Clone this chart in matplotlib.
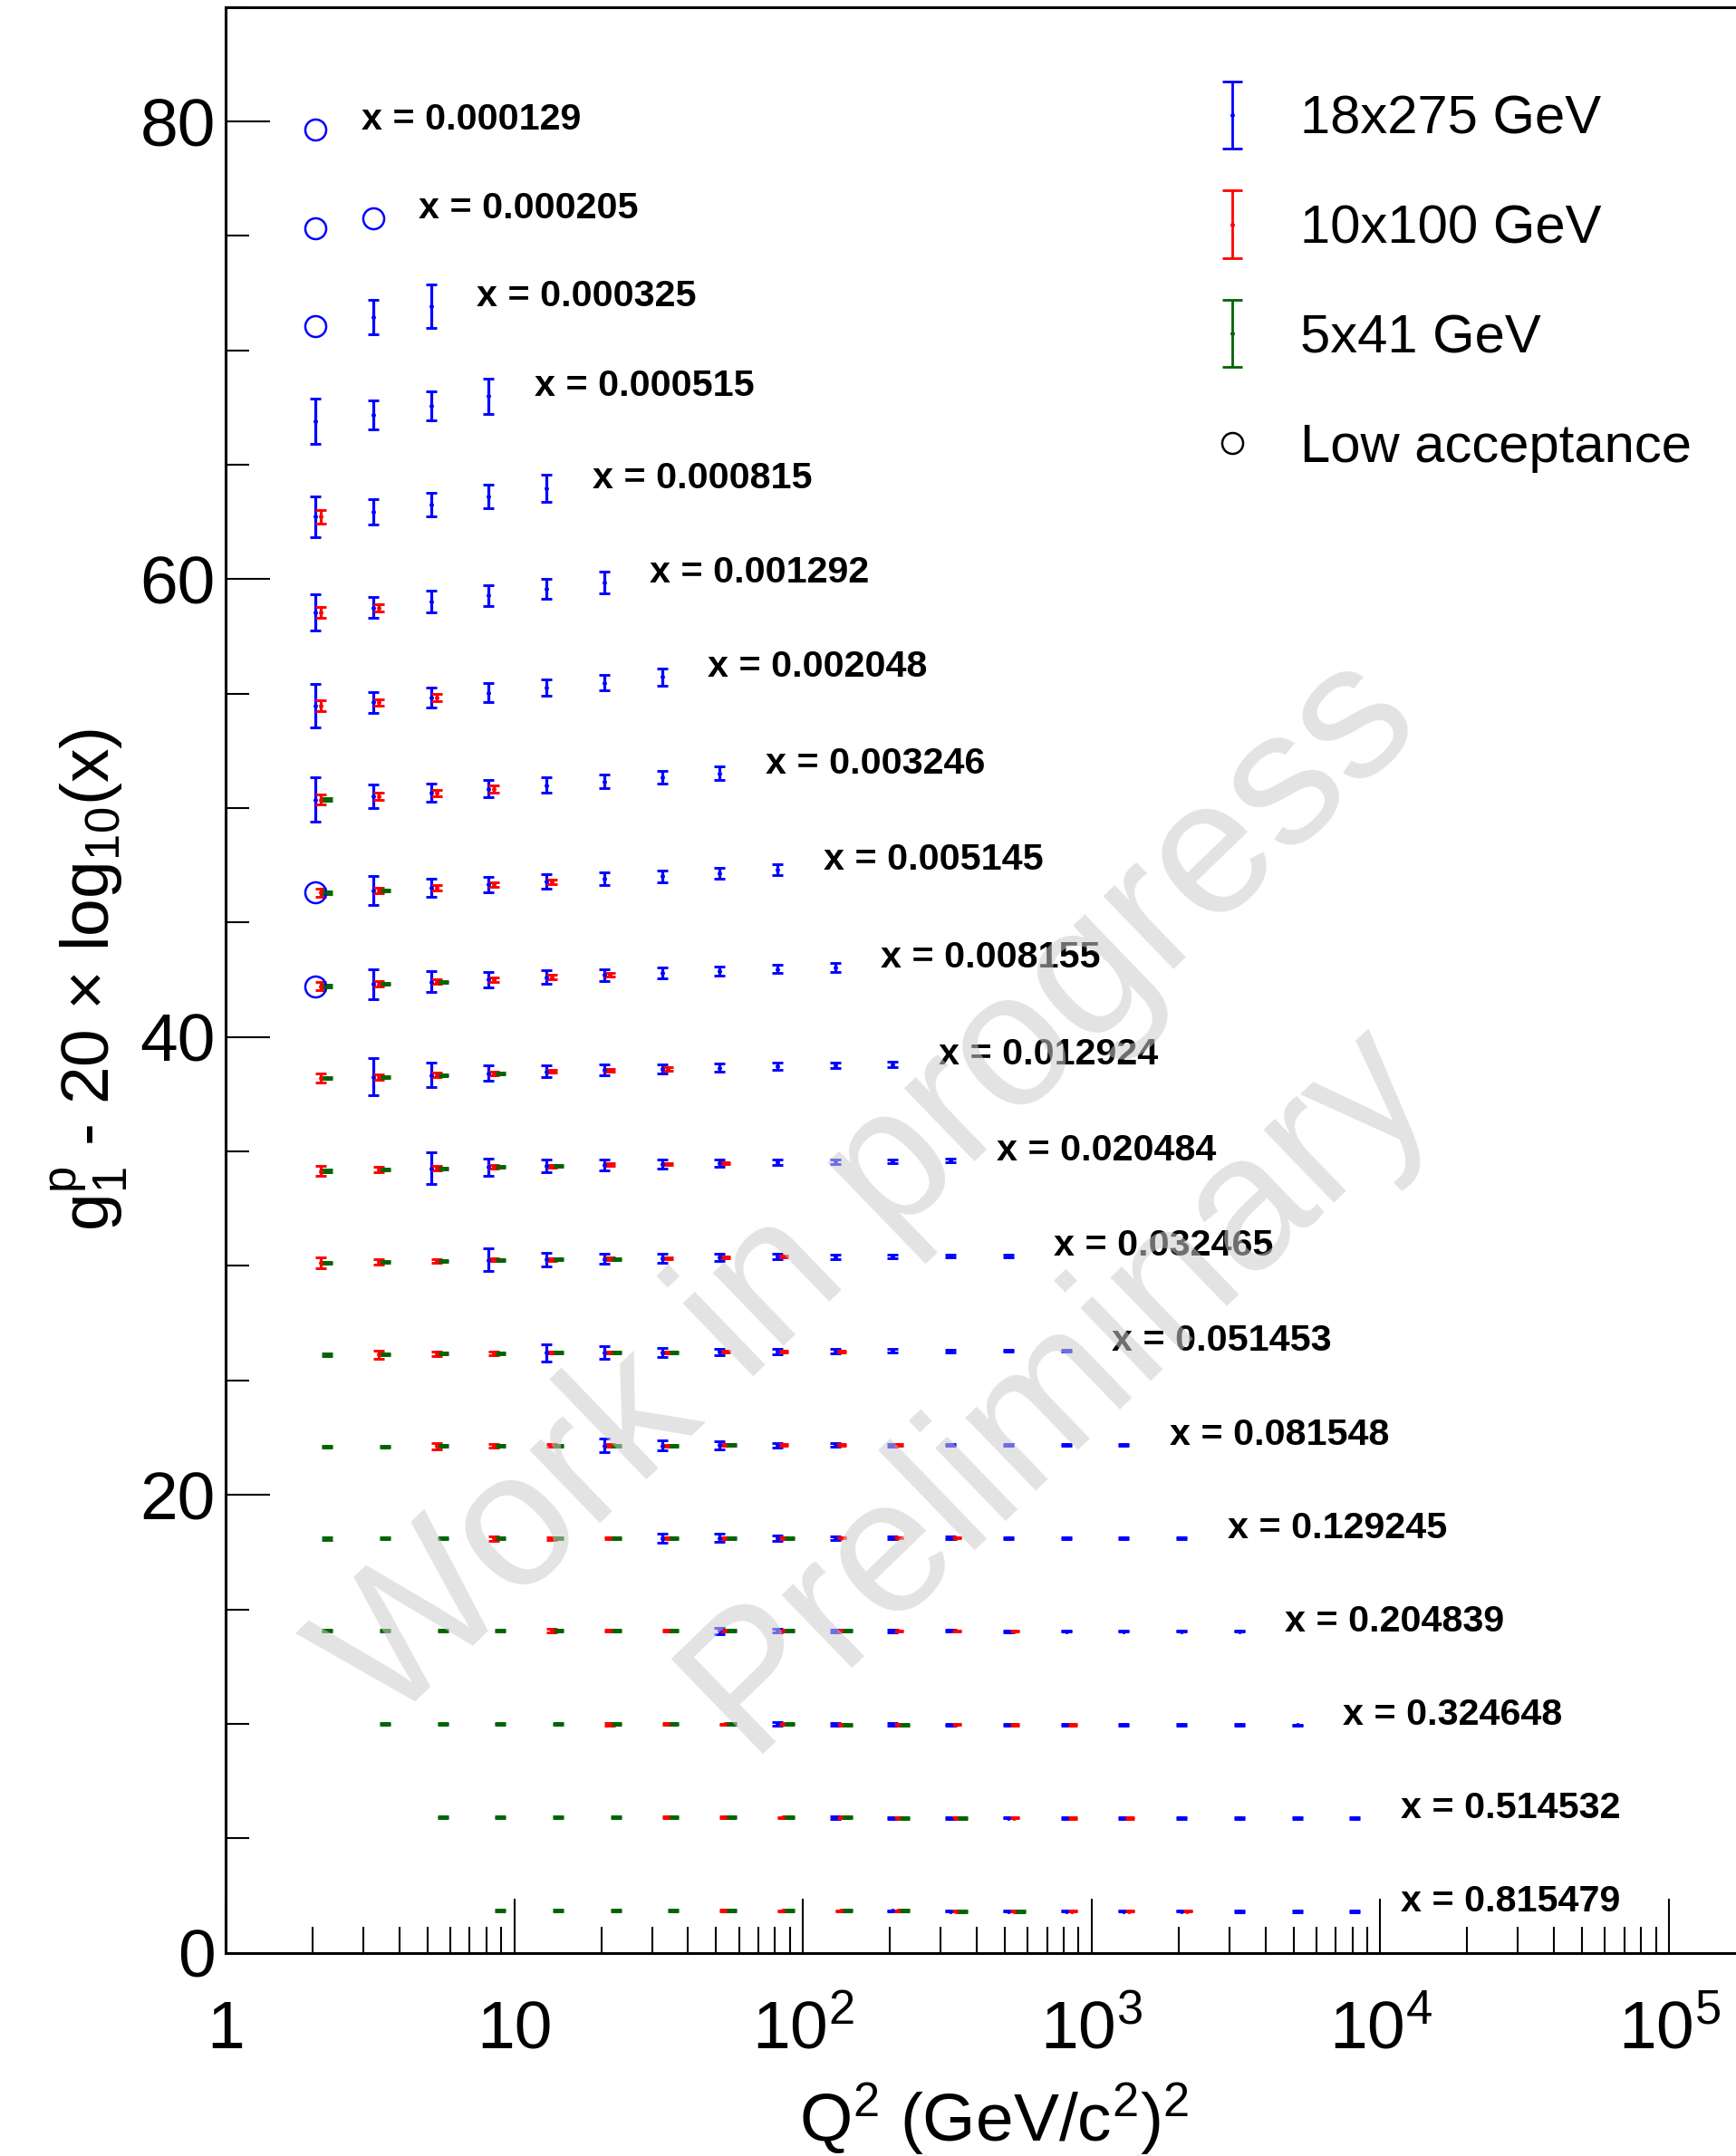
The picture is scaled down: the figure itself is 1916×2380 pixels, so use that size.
import numpy as np
import matplotlib
matplotlib.use("Agg")
import matplotlib.pyplot as plt
import matplotlib.transforms as mtransforms
from matplotlib.container import ErrorbarContainer
from matplotlib.legend_handler import HandlerErrorbar
from matplotlib.lines import Line2D
from matplotlib.ticker import FixedLocator, MultipleLocator, NullFormatter

plt.rcParams.update({
    "font.family": ["Liberation Sans", "DejaVu Sans"],
    "mathtext.fontset": "custom",
    "mathtext.rm": "Liberation Sans",
    "mathtext.it": "Liberation Sans:italic",
    "mathtext.bf": "Liberation Sans:bold",
    "mathtext.default": "regular",
})

# ---- binning -------------------------------------------------------------
q2_bins = [2.048, 3.246, 5.145, 8.155, 12.92, 20.48, 32.46, 51.45, 81.55, 129.2,
           204.8, 324.6, 514.5, 815.5, 1292, 2048, 3246, 5145, 8155]

x_labels = ["0.000129", "0.000205", "0.000325", "0.000515", "0.000815",
            "0.001292", "0.002048", "0.003246", "0.005145", "0.008155",
            "0.012924", "0.020484", "0.032465", "0.051453", "0.081548",
            "0.129245", "0.204839", "0.324648", "0.514532", "0.815479"]
x_bins = [float(s) for s in x_labels]

# ---- g1^p per x bin, starting at Q2 bin index g1_first -------------------
g1_first = [0, 0, 0, 0, 0, 0, 0, 0, 0, 0, 0, 0, 0, 0, 0, 0, 0, 1, 2, 3]
g1_vals = [
    [1.85],
    [1.55, 1.99],
    [1.31, 1.68, 2.17],
    [1.12, 1.42, 1.81, 2.24],
    [0.95, 1.18, 1.48, 1.83, 2.20],
    [0.79, 0.99, 1.24, 1.51, 1.80, 2.09],
    [0.70, 0.84, 1.05, 1.27, 1.49, 1.70, 1.95],
    [0.60, 0.74, 0.89, 1.07, 1.23, 1.39, 1.57, 1.74],
    [0.54, 0.64, 0.75, 0.89, 1.01, 1.14, 1.25, 1.39, 1.53],
    [0.45, 0.55, 0.65, 0.74, 0.84, 0.94, 1.03, 1.11, 1.19, 1.26],
    [0.43, 0.49, 0.57, 0.65, 0.73, 0.78, 0.83, 0.89, 0.95, 0.99, 1.05],
    [0.38, 0.44, 0.50, 0.55, 0.59, 0.64, 0.68, 0.72, 0.76, 0.79, 0.81, 0.83],
    [0.36, 0.39, 0.43, 0.49, 0.51, 0.54, 0.57, 0.61, 0.63, 0.64, 0.65, 0.66, 0.67],
    [0.34, 0.36, 0.39, 0.41, 0.44, 0.45, 0.46, 0.48, 0.49, 0.50, 0.51, 0.52, 0.52, 0.53],
    [0.34, 0.35, 0.36, 0.37, 0.38, 0.39, 0.39, 0.40, 0.40, 0.41, 0.41, 0.42, 0.42, 0.43, 0.43],
    [0.32, 0.32, 0.33, 0.33, 0.33, 0.34, 0.34, 0.34, 0.34, 0.35, 0.35, 0.35, 0.35, 0.35, 0.35, 0.35],
    [0.29, 0.29, 0.29, 0.29, 0.29, 0.29, 0.28, 0.28, 0.28, 0.28, 0.28, 0.28, 0.27, 0.27, 0.27, 0.27, 0.27],
    [0.23, 0.23, 0.22, 0.22, 0.22, 0.21, 0.21, 0.21, 0.20, 0.20, 0.20, 0.19, 0.19, 0.18, 0.18, 0.18, 0.17],
    [0.15, 0.15, 0.14, 0.14, 0.14, 0.13, 0.13, 0.13, 0.12, 0.12, 0.12, 0.11, 0.11, 0.11, 0.10, 0.10, 0.10],
    [0.07, 0.07, 0.07, 0.06, 0.06, 0.06, 0.06, 0.06, 0.05, 0.05, 0.05, 0.05, 0.05, 0.04, 0.04, 0.04],
]

# ---- projected uncertainties per beam setting ----------------------------
# 18x275 GeV
blue_first = [0, 0, 1, 0, 0, 0, 0, 0, 1, 1, 1, 2, 3, 4, 5, 6, 7, 8, 9, 10]
blue_err = [
    [],
    [],
    [0.75, 0.96],
    [0.99, 0.63, 0.63, 0.77],
    [0.90, 0.55, 0.53, 0.51, 0.59],
    [0.79, 0.46, 0.48, 0.44, 0.42, 0.47],
    [0.94, 0.46, 0.43, 0.42, 0.35, 0.33, 0.38],
    [0.96, 0.51, 0.40, 0.38, 0.34, 0.30, 0.28, 0.30],
    [0.63, 0.41, 0.35, 0.32, 0.28, 0.25, 0.23, 0.23],
    [0.65, 0.46, 0.33, 0.30, 0.26, 0.24, 0.20, 0.18, 0.20],
    [0.82, 0.54, 0.35, 0.27, 0.24, 0.21, 0.17, 0.15, 0.13, 0.12],
    [0.68, 0.38, 0.28, 0.23, 0.18, 0.16, 0.13, 0.10, 0.08, 0.07],
    [0.49, 0.30, 0.23, 0.20, 0.15, 0.12, 0.10, 0.08, 0.07, 0.06],
    [0.38, 0.26, 0.20, 0.14, 0.12, 0.10, 0.08, 0.06, 0.05, 0.05],
    [0.28, 0.20, 0.17, 0.10, 0.08, 0.06, 0.05, 0.05, 0.04, 0.04],
    [0.21, 0.18, 0.12, 0.08, 0.06, 0.05, 0.04, 0.04, 0.04, 0.04],
    [0.12, 0.08, 0.06, 0.05, 0.04, 0.04, 0.03, 0.03, 0.03, 0.03],
    [0.08, 0.06, 0.05, 0.04, 0.04, 0.03, 0.03, 0.03, 0.03, 0.03],
    [0.05, 0.04, 0.04, 0.03, 0.03, 0.03, 0.03, 0.03, 0.03, 0.03],
    [0.03, 0.03, 0.03, 0.03, 0.03, 0.03, 0.03, 0.03, 0.03],
]

# 10x100 GeV
red_first = [0, 0, 0, 0, 0, 0, 0, 0, 0, 0, 0, 0, 0, 1, 2, 3, 4, 5, 6, 7]
red_err = [
    [], [], [], [],
    [0.30],
    [0.24, 0.16],
    [0.23, 0.15, 0.16],
    [0.21, 0.16, 0.13, 0.15],
    [0.18, 0.12, 0.12, 0.10, 0.09],
    [0.18, 0.13, 0.10, 0.09, 0.09, 0.08],
    [0.20, 0.12, 0.09, 0.08, 0.07, 0.07, 0.07],
    [0.20, 0.13, 0.09, 0.07, 0.06, 0.06, 0.05, 0.05],
    [0.23, 0.12, 0.08, 0.06, 0.05, 0.05, 0.05, 0.04, 0.04],
    [0.17, 0.10, 0.07, 0.05, 0.05, 0.04, 0.04, 0.04, 0.04],
    [0.13, 0.08, 0.06, 0.05, 0.04, 0.04, 0.04, 0.04, 0.04],
    [0.10, 0.06, 0.05, 0.04, 0.03, 0.03, 0.03, 0.03, 0.03],
    [0.07, 0.05, 0.04, 0.03, 0.03, 0.03, 0.03, 0.03, 0.03],
    [0.06, 0.04, 0.03, 0.03, 0.03, 0.03, 0.03, 0.03, 0.03],
    [0.05, 0.04, 0.03, 0.03, 0.03, 0.03, 0.03, 0.03, 0.03],
    [0.04, 0.03, 0.03, 0.03, 0.03, 0.03, 0.03, 0.03, 0.03],
]

# 5x41 GeV
green_first = [0, 0, 0, 0, 0, 0, 0, 0, 0, 0, 0, 0, 0, 0, 0, 0, 0, 1, 2, 3]
green_err = [
    [], [], [], [], [], [], [],
    [0.05],
    [0.05, 0.04],
    [0.05, 0.04, 0.04],
    [0.05, 0.04, 0.04, 0.04],
    [0.05, 0.04, 0.04, 0.04, 0.04],
    [0.05, 0.04, 0.04, 0.04, 0.04, 0.04],
    [0.05, 0.04, 0.04, 0.04, 0.04, 0.04, 0.04],
    [0.05, 0.04, 0.04, 0.04, 0.04, 0.04, 0.04, 0.04],
    [0.05, 0.04, 0.04, 0.04, 0.04, 0.04, 0.04, 0.04, 0.04],
    [0.05, 0.04, 0.04, 0.04, 0.04, 0.04, 0.04, 0.04, 0.04, 0.04],
    [0.05, 0.04, 0.04, 0.04, 0.04, 0.04, 0.04, 0.04, 0.04, 0.04],
    [0.05, 0.04, 0.04, 0.04, 0.04, 0.04, 0.04, 0.04, 0.04, 0.04],
    [0.05, 0.04, 0.04, 0.04, 0.04, 0.04, 0.04, 0.04, 0.04, 0.04],
]

# 18x275 points with low acceptance (x bin, Q2 bin)
lowacc_row = [0, 1, 1, 2, 8, 9]
lowacc_k = [0, 0, 1, 0, 0, 0]

beam_labels = ["18x275 GeV", "10x100 GeV", "5x41 GeV"]
beam_colors = ["#0000ff", "#ff0000", "#006400"]
beam_shift_pt = [0.0, 4.3, 9.2]   # small horizontal dodge so points don't sit on top of each other


def row_offset(r):
    return -20.0 * np.log10(x_bins[r])


def g1_at(r, k):
    return g1_vals[r][k - g1_first[r]]


def collect(first, errs):
    qs, ys, es = [], [], []
    for r, (k0, row_err) in enumerate(zip(first, errs)):
        for i, e in enumerate(row_err):
            k = k0 + i
            qs.append(q2_bins[k])
            ys.append(g1_at(r, k) + row_offset(r))
            es.append(e)
    return qs, ys, es


fig = plt.figure(figsize=(19.16, 23.8), dpi=100)
ax = fig.add_axes([0.13, 0.0943, 0.885, 0.9025])
ax.set_xscale("log")
ax.set_xlim(1, 2.1e5)
ax.set_ylim(0, 85)

eb_style = dict(fmt="o", ms=2.5, elinewidth=2.3, capsize=4.2, capthick=2.1, ls="none")

for first, errs, col, dx in zip([blue_first, red_first, green_first],
                                [blue_err, red_err, green_err],
                                beam_colors, beam_shift_pt):
    qs, ys, es = collect(first, errs)
    trans = mtransforms.offset_copy(ax.transData, fig=fig, x=dx, y=0, units="points")
    ax.errorbar(qs, ys, yerr=es, color=col, transform=trans, **eb_style)

# low-acceptance points as open circles
la_q = [q2_bins[k] for k in lowacc_k]
la_y = [g1_at(r, k) + row_offset(r) for r, k in zip(lowacc_row, lowacc_k)]
ax.plot(la_q, la_y, ls="none", marker="o", ms=16.6, mfc="none", mec=beam_colors[0], mew=1.8)

# x-bin labels next to the last point of each row
for r, lab in enumerate(x_labels):
    k_last = g1_first[r] + len(g1_vals[r]) - 1
    ax.text(q2_bins[k_last] * 1.44, g1_vals[r][-1] + row_offset(r), f"x = {lab}",
            fontsize=29.7, fontweight="bold", ha="left", va="baseline")

# legend (proxies so the key is drawn larger than the data caps)
handles = []
for lab, col in zip(beam_labels, beam_colors):
    h = ax.errorbar([np.nan], [np.nan], yerr=[1.0], fmt="o", ms=2.5, color=col,
                    elinewidth=2.0, capsize=7.8, capthick=2.0, ls="none", label=lab)
    handles.append(h)
handles.append(Line2D([], [], ls="none", marker="o", ms=16.6, mfc="none", mec="black",
                      mew=1.8, label="Low acceptance"))
ax.legend(handles=handles, loc="upper left", bbox_to_anchor=(0.694, 0.956),
          bbox_transform=fig.transFigure, frameon=False, fontsize=43,
          handlelength=1.0, handletextpad=0.76, labelspacing=1.1,
          borderpad=0, borderaxespad=0, numpoints=1,
          handler_map={ErrorbarContainer: HandlerErrorbar(xerr_size=0.62)})

# axes cosmetics
for side in ["left", "bottom", "top"]:
    ax.spines[side].set_linewidth(2.2)
ax.spines["right"].set_visible(False)

ax.yaxis.set_major_locator(MultipleLocator(20))
ax.yaxis.set_minor_locator(MultipleLocator(5))
ax.tick_params(axis="y", which="major", direction="in", length=35, width=1.5,
               labelsize=54, pad=8, right=False)
ax.tick_params(axis="y", which="minor", direction="in", length=19, width=1.5, right=False)

ax.set_xticks([1, 10, 100, 1e3, 1e4, 1e5],
              labels=["1", "10", "$10^{2}$", "$10^{3}$", "$10^{4}$", "$10^{5}$"])
ax.xaxis.set_minor_locator(FixedLocator([m * 10.0 ** d for d in range(6) for m in range(2, 10)]))
ax.xaxis.set_minor_formatter(NullFormatter())
ax.tick_params(axis="x", which="major", direction="in", length=43, width=1.5,
               labelsize=54, pad=76, top=False)
ax.tick_params(axis="x", which="minor", direction="in", length=21, width=1.5, top=False)
plt.setp(ax.get_xticklabels(), va="baseline")

ax.set_xlabel("Q$^{2}$ (GeV/c$^{2}$)$^{2}$", fontsize=54, va="baseline")
ax.xaxis.set_label_coords(0.5, -0.097)
ax.set_ylabel("g$_{1}^{p}$ - 20 $\\times$ log$_{10}$(x)", fontsize=54, va="center")
ax.yaxis.set_label_coords(-0.0885, 0.5)

# watermark
wm = dict(rotation=44, rotation_mode="anchor", ha="center", va="center",
          fontsize=152, color="0.8", alpha=0.55, zorder=20)
fig.text(0.502, 0.447, "Work in progress", **wm)
fig.text(0.609, 0.357, "Preliminary", **wm)

fig.savefig("out.png", dpi=100)
